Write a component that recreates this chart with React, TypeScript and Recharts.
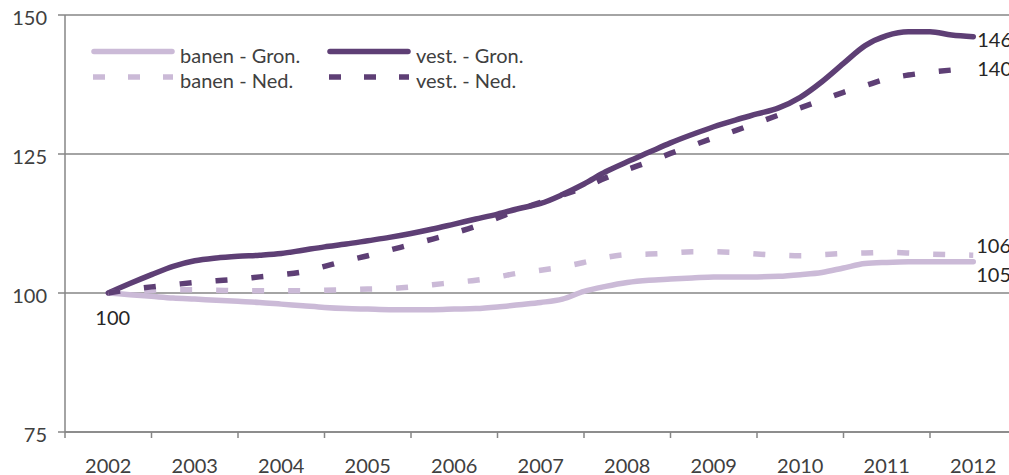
import React from 'react';
import { LineChart, Line, XAxis, YAxis, CartesianGrid } from 'recharts';

// quarterly periods (year + quarter fraction)
const periods = [
  2002, 2002.25, 2002.5, 2002.75, 2003, 2003.25, 2003.5, 2003.75,
  2004, 2004.25, 2004.5, 2004.75, 2005, 2005.25, 2005.5, 2005.75,
  2006, 2006.25, 2006.5, 2006.75, 2007, 2007.25, 2007.5, 2007.75,
  2008, 2008.25, 2008.5, 2008.75, 2009, 2009.25, 2009.5, 2009.75,
  2010, 2010.25, 2010.5, 2010.75, 2011, 2011.25, 2011.5, 2011.75,
  2012,
];

const banenGron = [
  100, 99.7, 99.4, 99.1, 98.9, 98.7, 98.5, 98.3,
  98.0, 97.7, 97.4, 97.2, 97.1, 97.0, 97.0, 97.0,
  97.1, 97.2, 97.5, 97.9, 98.3, 98.9, 100.3, 101.2,
  101.9, 102.3, 102.5, 102.7, 102.9, 102.9, 102.9, 103.0,
  103.3, 103.7, 104.5, 105.3, 105.5, 105.6, 105.6, 105.6,
  105.6,
];

const vestGron = [
  100, 101.7, 103.3, 104.8, 105.8, 106.3, 106.6, 106.8,
  107.1, 107.7, 108.3, 108.8, 109.4, 110.0, 110.7, 111.5,
  112.4, 113.3, 114.2, 115.2, 116.1, 117.7, 119.6, 121.8,
  123.6, 125.3, 127.0, 128.5, 129.9, 131.1, 132.2, 133.3,
  135.2, 138.0, 141.3, 144.5, 146.3, 147.0, 147.0, 146.4,
  146.1,
];

const banenNed = [
  100, 100.3, 100.5, 100.6, 100.6, 100.5, 100.4, 100.4,
  100.4, 100.4, 100.5, 100.6, 100.7, 100.8, 101.1, 101.5,
  101.9, 102.3, 102.9, 103.6, 104.1, 104.7, 105.5, 106.4,
  106.9, 107.0, 107.2, 107.4, 107.4, 107.3, 107.0, 106.8,
  106.7, 106.9, 107.1, 107.2, 107.3, 107.2, 107.0, 106.9,
  106.8,
];

const vestNed = [
  100, 100.6, 101.1, 101.5, 101.9, 102.2, 102.5, 102.9,
  103.3, 103.8, 104.8, 105.8, 106.7, 107.7, 108.7, 109.7,
  110.8, 112.0, 113.5, 115.0, 116.3, 117.6, 119.0, 120.7,
  122.2, 123.6, 125.1, 126.5, 127.9, 129.2, 130.6, 132.0,
  133.3, 134.7, 136.1, 137.3, 138.5, 139.2, 139.7, 140.1,
  140.4,
];

const yearTicks = [2002, 2003, 2004, 2005, 2006, 2007, 2008, 2009, 2010, 2011, 2012];
const boundaryTicks = [2001.5, 2002.5, 2003.5, 2004.5, 2005.5, 2006.5, 2007.5, 2008.5, 2009.5, 2010.5, 2011.5, 2012.5];
const yTicks = [75, 100, 125, 150];

const seriesNames = ['banen - Gron.', 'vest. - Gron.', 'banen - Ned.', 'vest. - Ned.'];
const endLabels = ['105', '146', '106', '140'];
const startLabel = '100';

const LIGHT = '#CBBAD7';
const DARK = '#5E3F75';
const AXIS = '#868686';
const TEXT = '#404040';
const FONT = 'Lato, "Open Sans", sans-serif';

const data = periods.map((p, i) => ({
  period: p,
  banenGron: banenGron[i],
  vestGron: vestGron[i],
  banenNed: banenNed[i],
  vestNed: vestNed[i],
}));

const allXTicks = [...boundaryTicks, ...yearTicks].sort((a, b) => a - b);

const XTick = (props: any) => {
  const { x, y, payload } = props;
  const v = payload.value;
  if (Number.isInteger(v)) {
    return (
      <text x={x} y={y} dy={35} textAnchor="middle" fill={TEXT} fontSize={20} fontFamily={FONT}>
        {String(v)}
      </text>
    );
  }
  return <line x1={x} y1={y - 6} x2={x} y2={y} stroke={AXIS} strokeWidth={1.5} />;
};

const YTick = (props: any) => {
  const { x, y, payload } = props;
  return (
    <text x={x} y={y} dy={10} textAnchor="end" fill={TEXT} fontSize={20} fontFamily={FONT}>
      {String(payload.value)}
    </text>
  );
};

const makeDot = (endText: string, dx: number, dy: number, start?: { text: string; dx: number; dy: number }) => (props: any) => {
  const { cx, cy, index } = props;
  const key = `d-${endText}-${index}`;
  if (index === periods.length - 1) {
    return (
      <text key={key} x={cx + dx} y={cy + dy} fill="#262626" fontSize={20} fontFamily={FONT}>
        {endText}
      </text>
    );
  }
  if (index === 0 && start) {
    return (
      <text key={key} x={cx + start.dx} y={cy + start.dy} textAnchor="middle" fill="#262626" fontSize={20} fontFamily={FONT}>
        {start.text}
      </text>
    );
  }
  return <g key={key} />;
};

const legendItems = [
  { name: seriesNames[0], color: LIGHT, dashed: false, x: 94, y: 51.5 },
  { name: seriesNames[1], color: DARK, dashed: false, x: 330, y: 51.5 },
  { name: seriesNames[2], color: LIGHT, dashed: true, x: 93, y: 77 },
  { name: seriesNames[3], color: DARK, dashed: true, x: 329, y: 77 },
];

const LegendOverlay = () => (
  <svg width={1009} height={100} style={{ position: 'absolute', left: 0, top: 0, pointerEvents: 'none' }}>
    {legendItems.map((it) => (
      <g key={it.name}>
        {it.dashed ? (
          <line x1={it.x} y1={it.y} x2={it.x + 80} y2={it.y} stroke={it.color} strokeWidth={5.5} strokeDasharray="12 23" />
        ) : (
          <line x1={it.x} y1={it.y} x2={it.x + 78} y2={it.y} stroke={it.color} strokeWidth={5.5} strokeLinecap="round" />
        )}
        <text x={it.dashed ? it.x + 87 : it.x + 86} y={it.y + (it.dashed ? 11.3 : 11.8)} fill={TEXT} fontSize={20} fontFamily={FONT}>
          {it.name}
        </text>
      </g>
    ))}
  </svg>
);

export default function App() {
  return (
    <div style={{ position: 'absolute', left: 0, top: 0, width: 1009, height: 475, overflow: 'hidden', background: '#fff' }}>
      <LineChart width={1030} height={475} data={data} margin={{ top: 15, right: 13.5, bottom: 0, left: 0 }}>
        <CartesianGrid vertical={false} stroke={AXIS} strokeWidth={1.5} />
        <XAxis
          dataKey="period"
          type="number"
          domain={[2001.5, 2012.5]}
          ticks={allXTicks}
          interval={0}
          tickSize={6}
          tickMargin={0}
          tickLine={false}
          axisLine={{ stroke: AXIS, strokeWidth: 1.5 }}
          tick={<XTick />}
          height={43}
          allowDataOverflow
        />
        <YAxis
          domain={[75, 150]}
          ticks={yTicks}
          interval={0}
          width={65}
          tickSize={7}
          tickMargin={11}
          tickLine={{ stroke: AXIS, strokeWidth: 1.5 }}
          axisLine={{ stroke: AXIS, strokeWidth: 1.5 }}
          tick={<YTick />}
          allowDataOverflow
        />
        <Line
          dataKey="banenGron"
          name={seriesNames[0]}
          type="monotone"
          stroke={LIGHT}
          strokeWidth={5.5}
          strokeLinecap="round"
          strokeLinejoin="round"
          dot={makeDot(endLabels[0], 3, 20.5)}
          activeDot={false}
          isAnimationActive={false}
        />
        <Line
          dataKey="vestGron"
          name={seriesNames[1]}
          type="monotone"
          stroke={DARK}
          strokeWidth={5.5}
          strokeLinecap="round"
          strokeLinejoin="round"
          dot={makeDot(endLabels[1], 4, 10, { text: startLabel, dx: 4.5, dy: 31.5 })}
          activeDot={false}
          isAnimationActive={false}
        />
        <Line
          dataKey="banenNed"
          name={seriesNames[2]}
          type="monotone"
          stroke={LIGHT}
          strokeWidth={5.5}
          strokeDasharray="12 24"
          dot={makeDot(endLabels[2], 3, -2.3)}
          activeDot={false}
          isAnimationActive={false}
        />
        <Line
          dataKey="vestNed"
          name={seriesNames[3]}
          type="monotone"
          stroke={DARK}
          strokeWidth={5.5}
          strokeDasharray="12 24"
          dot={makeDot(endLabels[3], 4, 8)}
          activeDot={false}
          isAnimationActive={false}
        />
      </LineChart>
      <LegendOverlay />
    </div>
  );
}
